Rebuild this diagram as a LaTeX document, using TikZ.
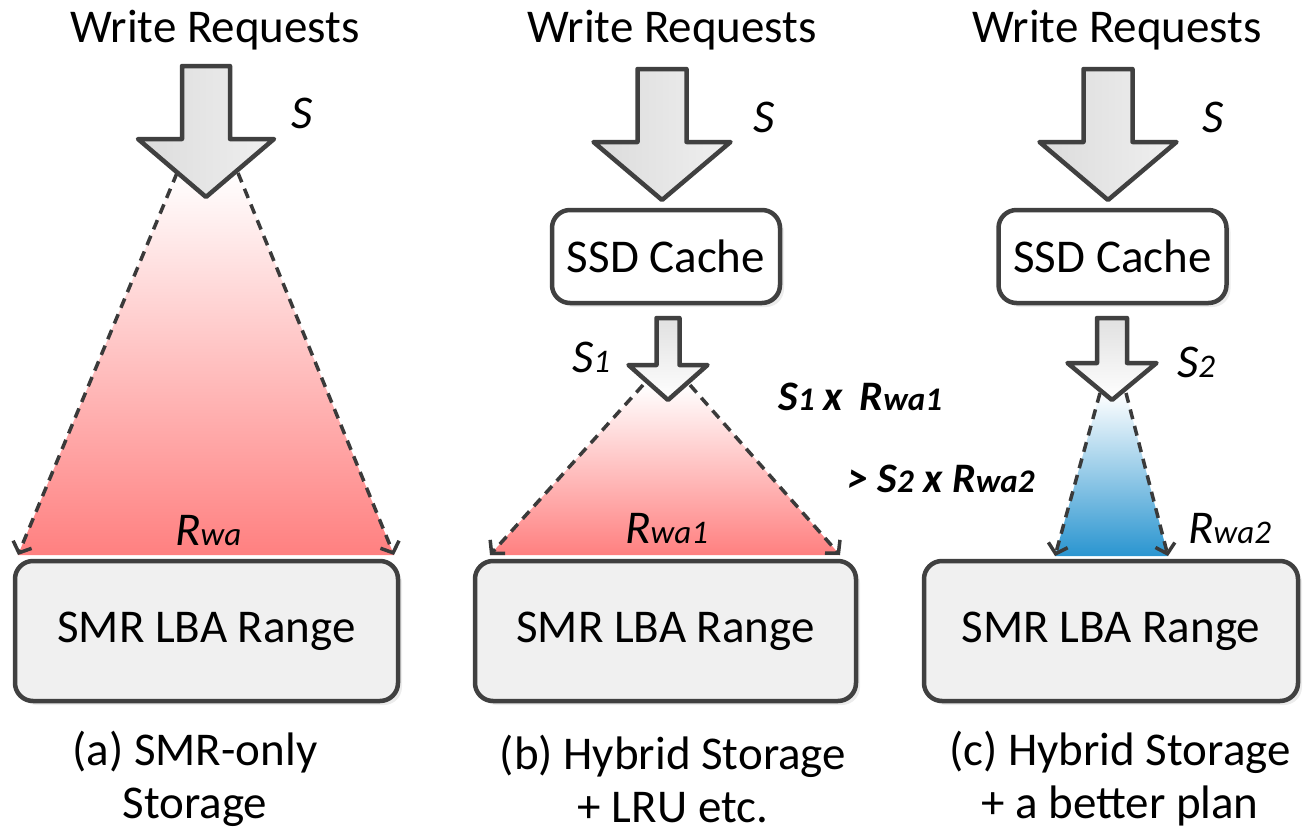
\documentclass[tikz,border=0pt]{standalone}
\usepackage{fontspec}
\setmainfont{Carlito}
\usetikzlibrary{arrows.meta}
\usetikzlibrary{shadows}
\definecolor{edge}{HTML}{404040}
\definecolor{boxfill}{HTML}{F0F0F0}
\definecolor{hotred}{HTML}{FF8080}
\definecolor{coolblue}{HTML}{2A95D0}
\tikzset{
	big/.style={font=\fontsize{47}{53}\selectfont},
	region/.style={
		draw=edge,
		line width=4.5pt,
		fill=boxfill,
		rounded corners=18pt,
		minimum height=140pt,
		drop shadow={shadow xshift=4pt, shadow yshift=-4pt, opacity=0.15},
		big,
	},
	cache/.style={
		region,
		fill=white,
		minimum height=93pt,
		minimum width=228pt,
	},
	flow/.style={
		draw=edge,
		line width=4.5pt,
		line join=round,
		left color=black!14,
		right color=black!6,
	},
	smallflow/.style={
		flow,
		top color=black!12,
		bottom color=white,
	},
	spread/.style={
		draw=edge!90!black,
		line width=3.5pt,
		dash pattern=on 10pt off 7pt,
		-{Straight Barb[length=9pt,width=20pt]}
	},
	varlbl/.style={anchor=base west, inner sep=0pt, font=\fontsize{47}{53}\selectfont\itshape},
	claim/.style={anchor=base west, inner sep=0pt, font=\fontsize{42}{48}\selectfont\bfseries\itshape},
	subcap/.style={align=center, inner sep=0pt, font=\fontsize{47}{53}\selectfont},
}
\newcommand{\lowsub}[1]{{\fontsize{33}{40}\selectfont #1}}
% name, x, shaft top, head y, tip y, half shaft, half head
\newcommand{\fatarrow}[8][flow]{%
	\draw[#1] (#3-#7,#4) -- (#3+#7,#4) -- (#3+#7,#5) -- (#3+#8,#5) -- (#3,#6) -- (#3-#8,#5) -- (#3-#7,#5) -- cycle;
	\coordinate (#2) at (#3,#6);}

\begin{document}
\begin{tikzpicture}[x=1pt,y=-1pt]
		\useasboundingbox (0,0) rectangle (1307,835);

		% (a)
		\node[big, anchor=base] (reqA) at (215,42) {Write Requests};
		\coordinate (aTL) at (177,173);
		\coordinate (aTR) at (238,173);
		\coordinate (aBL) at (18,555);
		\coordinate (aBR) at (394,555);
		\shade[top color=white, bottom color=hotred] (aTL) -- (aTR) -- (aBR) -- (aBL) -- cycle;
		\draw[spread] (aTL) -- (aBL);
		\draw[spread] (aTR) -- (aBR);
		\fatarrow{tipA}{206}{66}{139}{197}{24}{68}
		\node[varlbl] (sA) at (291,128) {S};
		\node[varlbl] (rwaA) at (175,545) {R\lowsub{wa}};
		\node[region, minimum width=383pt] (smrA) at (206.5,631) {SMR LBA Range};
		\node[subcap] (capA) at (195,779) {(a) SMR-only\\Storage};

%*********

		% (b)
		\node[big, anchor=base] (reqB) at (672,42) {Write Requests};
		\fatarrow{tipB}{662}{69}{142}{200}{24.5}{68.5}
		\node[varlbl] (sB) at (753,132) {S};
		\node[cache] (ssdB) at (666,256.5) {SSD Cache};
		\coordinate (bTL) at (643,385);
		\coordinate (bTR) at (690,385);
		\coordinate (bBL) at (490,555);
		\coordinate (bBR) at (840,555);
		\shade[top color=white, bottom color=hotred] (bTL) -- (bTR) -- (bBR) -- (bBL) -- cycle;
		\draw[spread] (bTL) -- (bBL);
		\draw[spread] (bTR) -- (bBR);
		\fatarrow[smallflow]{tipB2}{668}{318}{365}{400}{11.5}{39.5}
		\node[varlbl] (sB1) at (572,372) {S\lowsub{1}};
		\node[varlbl] (rwaB) at (625,543) {R\lowsub{wa1}};
		\node[claim] (prodB) at (778,410) {S\lowsub{1} x\, R\lowsub{wa1}};
		\node[claim] (prodC) at (847,492) {> S\lowsub{2} x R\lowsub{wa2}};
		\node[region, minimum width=381pt] (smrB) at (665.5,631) {SMR LBA Range};
		\node[subcap] (capB) at (673,779) {(b) Hybrid Storage\\+ LRU etc.};

%*********

		% (c)
		\node[big, anchor=base] (reqC) at (1117,42) {Write Requests};
		\fatarrow{tipC}{1108}{69}{142}{200}{24.5}{68.5}
		\node[varlbl] (sC) at (1202,132) {S};
		\node[cache] (ssdC) at (1112.5,256.5) {SSD Cache};
		\coordinate (cTL) at (1100,393);
		\coordinate (cTR) at (1126,393);
		\coordinate (cBL) at (1055,556);
		\coordinate (cBR) at (1168,556);
		\shade[top color=white, bottom color=coolblue] (cTL) -- (cTR) -- (cBR) -- (cBL) -- cycle;
		\draw[spread] (cTL) -- (cBL);
		\draw[spread] (cTR) -- (cBR);
		\fatarrow[smallflow]{tipC2}{1112}{318}{363}{400}{15}{44.5}
		\node[varlbl] (sC2) at (1177,377) {S\lowsub{2}};
		\node[varlbl] (rwaC) at (1188,543) {R\lowsub{wa2}};
		\node[region, minimum width=374pt] (smrC) at (1111,631) {SMR LBA Range};
		\node[subcap] (capC) at (1120,779) {(c) Hybrid Storage\\+ a better plan};
\end{tikzpicture}
\end{document}
